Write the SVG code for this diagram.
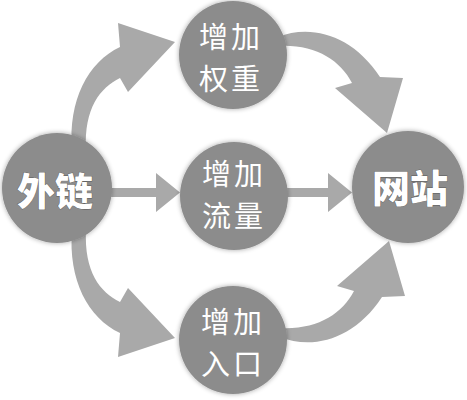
<svg xmlns="http://www.w3.org/2000/svg" width="467" height="400" viewBox="0 0 467 400">
  <defs>
    <filter id="halo" x="-20%" y="-20%" width="140%" height="140%">
      <feGaussianBlur in="SourceAlpha" stdDeviation="2.5"/>
      <feComponentTransfer><feFuncA type="linear" slope="0.35"/></feComponentTransfer>
      <feMerge><feMergeNode/><feMergeNode in="SourceGraphic"/></feMerge>
    </filter>
  </defs>
  <style>
    .arrow { fill: #a9a9a9; }
    .node { fill: #8c8c8c; filter: url(#halo); }
    .lbl { fill: #ffffff; font-family: "Noto Sans CJK SC", "Noto Sans", sans-serif; font-size: 29px; text-anchor: middle; letter-spacing: 3px; }
    .big { fill: #ffffff; font-family: "Noto Sans CJK SC", "Noto Sans", sans-serif; font-size: 38px; font-weight: 900; text-anchor: middle; stroke: #5a5a5a; stroke-width: 0.8px; paint-order: stroke; }
  </style>
  <rect width="467" height="400" fill="#ffffff"/>
  <g id="connectors">
    <path id="c-top-left" class="arrow" d="M72,150 C68,100 88,62 120,47 L118,23 L175,42 L128,92 L120,78 C100,88 84,108 86,150 Z"/>
    <path id="c-bottom-left" class="arrow" transform="translate(0,380) scale(1,-1)" d="M72,150 C68,100 88,62 120,47 L118,23 L175,42 L128,92 L120,78 C100,88 84,108 86,150 Z"/>
    <path id="c-top-right" class="arrow" d="M278,37 C310,24 352,34 380,77 L403,78 L387,133 L335,88 L352,83 C340,60 315,44 278,46 Z"/>
    <path id="c-bottom-right" class="arrow" transform="translate(2,374) scale(1,-1)" d="M278,37 C310,24 352,34 380,77 L403,78 L387,133 L335,88 L352,83 C340,60 315,44 278,46 Z"/>
    <path id="c-mid-left" class="arrow" d="M108,188 L156,188 L156,173 L180,192.5 L156,212 L156,197 L108,197 Z"/>
    <path id="c-mid-right" class="arrow" d="M282,188 L328,188 L328,173 L352,192.5 L328,212 L328,197 L282,197 Z"/>
  </g>
  <g id="node-waillian">
    <circle class="node" cx="57" cy="188" r="55"/>
    <text class="big" x="55" y="205">外链</text>
  </g>
  <g id="node-quanzhong">
    <circle class="node" cx="233" cy="55" r="54"/>
    <text class="lbl" x="231" y="48">增加</text>
    <text class="lbl" x="231" y="90">权重</text>
  </g>
  <g id="node-liuliang">
    <circle class="node" cx="234" cy="196" r="54"/>
    <text class="lbl" x="234" y="185">增加</text>
    <text class="lbl" x="234" y="227">流量</text>
  </g>
  <g id="node-rukou">
    <circle class="node" cx="233" cy="340" r="54"/>
    <text class="lbl" x="233" y="333">增加</text>
    <text class="lbl" x="233" y="375">入口</text>
  </g>
  <g id="node-wangzhan">
    <circle class="node" cx="408" cy="187" r="56"/>
    <text class="big" x="410" y="202">网站</text>
  </g>
</svg>
